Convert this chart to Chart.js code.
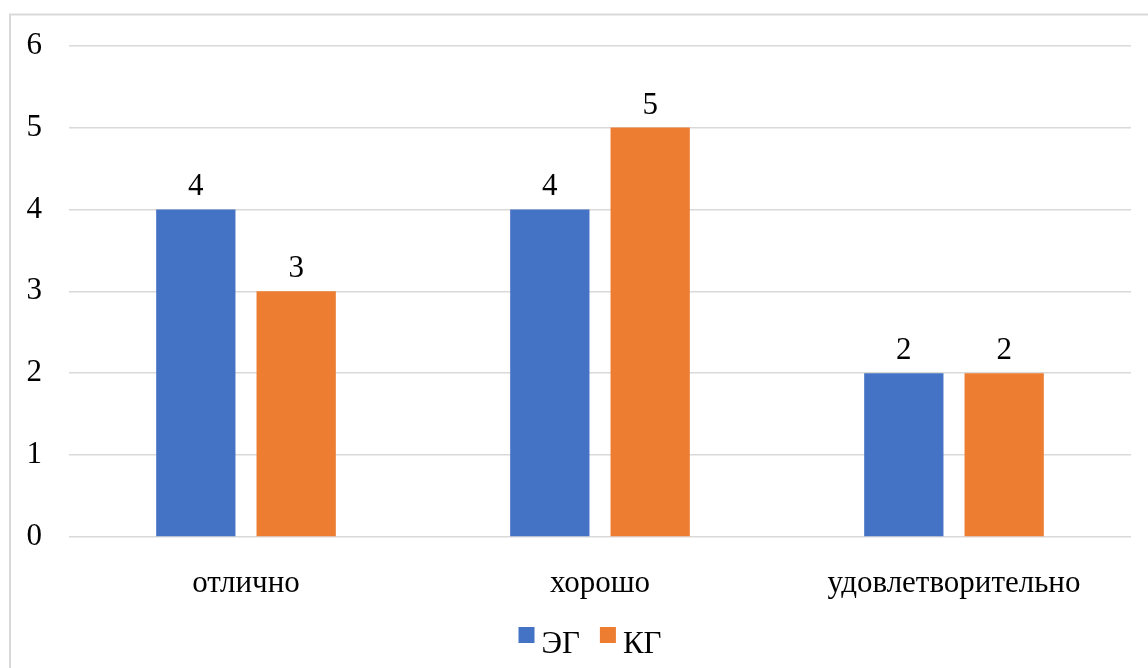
<!DOCTYPE html>
<html>
<head>
<meta charset="utf-8">
<script src="https://cdn.jsdelivr.net/npm/chart.js@4"></script>
<style>
  html, body { margin: 0; padding: 0; background: #fff; }
  #wrap { width: 1148px; height: 668px; position: relative; }
</style>
</head>
<body>
<div id="wrap"><canvas id="gradesChart" width="1148" height="668"></canvas></div>
<script>
// Оценки по группам
var categories = ['отлично', 'хорошо', 'удовлетворительно'];
var egValues = [4, 4, 2];
var kgValues = [3, 5, 2];
var seriesNames = ['ЭГ', 'КГ'];
var yTicks = [0, 1, 2, 3, 4, 5, 6];

var serif = "'Liberation Serif', 'Times New Roman', serif";
var textColor = '#000';
var fontSize = 31;

// frame around the chart
var framePlugin = {
    id: 'frame',
    beforeDraw: function (chart) {
        var c = chart.ctx;
        c.save();
        c.strokeStyle = '#d9d9d9';
        c.lineWidth = 2;
        c.strokeRect(10, 14.5, 1300, 800);
        c.restore();
    }
};

// numbers over the bars
var valueLabels = {
    id: 'valueLabels',
    afterDatasetsDraw: function (chart) {
        var c = chart.ctx;
        c.save();
        c.font = fontSize + 'px ' + serif;
        c.fillStyle = textColor;
        c.textAlign = 'center';
        c.textBaseline = 'alphabetic';
        chart.data.datasets.forEach(function (ds, i) {
            chart.getDatasetMeta(i).data.forEach(function (bar, j) {
                c.fillText(String(ds.data[j]), bar.x, bar.y - 14);
            });
        });
        c.restore();
    }
};

// compact legend: small square, tight gap to the text
var bottomLegend = {
    id: 'bottomLegend',
    afterDraw: function (chart) {
        var c = chart.ctx;
        var box = 16, gap = 7, itemGap = 20, baseline = 653;
        c.save();
        c.font = fontSize + 'px ' + serif;
        c.textBaseline = 'alphabetic';
        c.textAlign = 'left';
        var items = chart.data.datasets.map(function (ds) {
            return { text: ds.label, color: ds.backgroundColor, w: c.measureText(ds.label).width };
        });
        var total = items.reduce(function (s, it) { return s + box + gap + it.w; }, 0) + itemGap * (items.length - 1);
        var x = 590 - total / 2;
        items.forEach(function (it) {
            c.fillStyle = it.color;
            c.fillRect(x, 627, box, box);
            c.fillStyle = textColor;
            c.fillText(it.text, x + box + gap, baseline);
            x += box + gap + it.w + itemGap;
        });
        c.restore();
    }
};

var ctx = document.getElementById('gradesChart').getContext('2d');

var gradesChart = new Chart(ctx, {
    type: 'bar',
    data: {
        labels: categories,
        datasets: [
            {
                label: seriesNames[0],
                data: egValues,
                backgroundColor: '#4472C4',
                barPercentage: 0.79,
                categoryPercentage: 0.567
            },
            {
                label: seriesNames[1],
                data: kgValues,
                backgroundColor: '#ED7D31',
                barPercentage: 0.79,
                categoryPercentage: 0.567
            }
        ]
    },
    options: {
        responsive: false,
        animation: false,
        layout: {
            padding: { top: 44, right: 17, left: 0, bottom: 0 }
        },
        plugins: {
            tooltip: { enabled: false },
            legend: { display: false }
        },
        scales: {
            x: {
                afterFit: function (axis) { axis.height = 131; },
                grid: { display: false, drawTicks: false },
                border: { display: false },
                ticks: {
                    color: textColor,
                    padding: 28,
                    font: { family: serif, size: fontSize }
                }
            },
            y: {
                min: 0,
                max: 6,
                afterFit: function (axis) { axis.width = 69; },
                afterBuildTicks: function (axis) {
                    axis.ticks = yTicks.map(function (v) { return { value: v }; });
                },
                grid: { color: '#d9d9d9', lineWidth: 1.5, drawTicks: false },
                border: { display: false },
                ticks: {
                    color: textColor,
                    padding: 27,
                    font: { family: serif, size: fontSize }
                }
            }
        }
    },
    plugins: [framePlugin, valueLabels, bottomLegend]
});
</script>
</body>
</html>
